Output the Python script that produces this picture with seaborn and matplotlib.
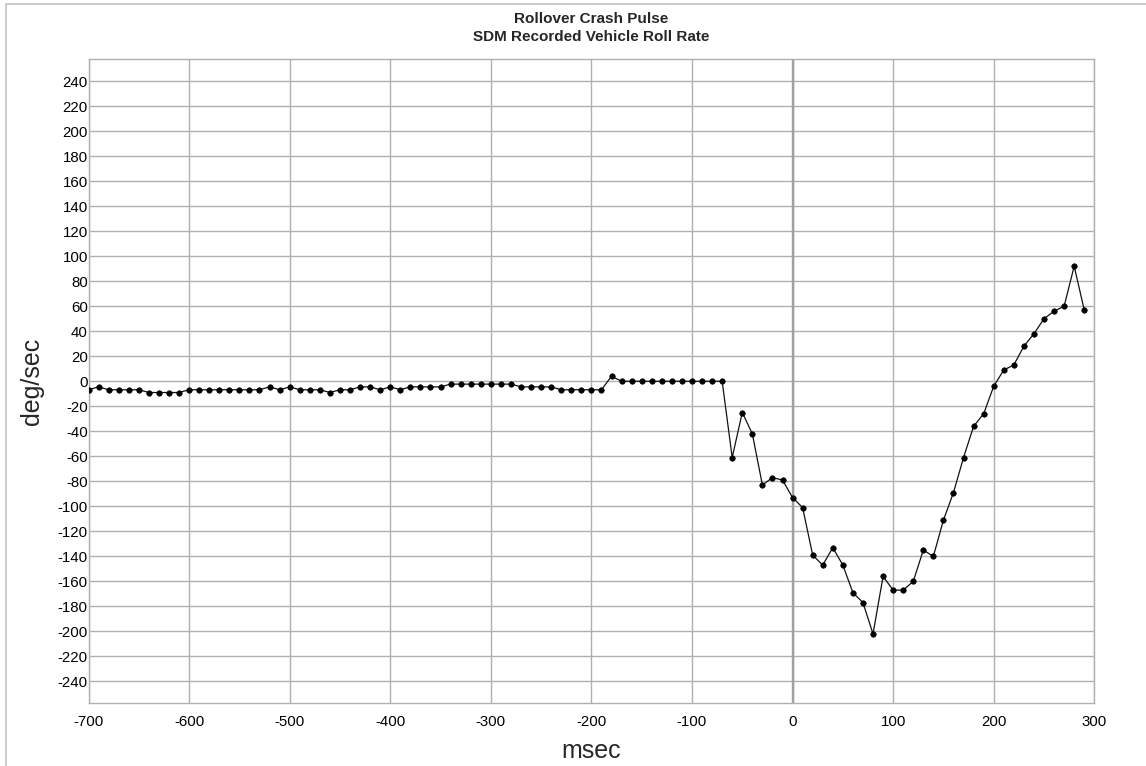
import matplotlib
matplotlib.use("Agg")
import matplotlib.pyplot as plt
from matplotlib.patches import Rectangle
import seaborn as sns
import pandas as pd

# Sample times (ms) and SDM roll rate (deg/sec)
time_ms = list(range(-700, 300, 10))
roll_rate = [
    -6.8, -4.5, -6.8, -6.8, -6.8, -6.8, -9.0, -9.0, -9.0, -9.0,
    -6.8, -6.8, -6.8, -6.8, -6.8, -6.8, -6.8, -6.8,
    -4.5, -6.8, -4.5, -6.8, -6.8, -6.8, -9.0, -6.8, -6.8, -4.5,
    -4.5, -6.8, -4.5, -6.8, -4.5, -4.5, -4.5, -4.5,
    -2.3, -2.3, -2.3, -2.3, -2.3, -2.3, -2.3,
    -4.5, -4.5, -4.5, -4.5,
    -6.8, -6.8, -6.8, -6.8, -6.8,
    4.0,
    0, 0, 0, 0, 0, 0, 0, 0, 0, 0, 0,
    -61, -25, -42, -83, -77, -79, -93, -101, -139, -147,
    -133, -147, -169, -177, -202, -156, -167, -167, -160, -135,
    -140, -111, -89, -61, -36, -26, -4, 9, 13, 28,
    38, 50, 56, 60, 92, 57,
]

x_ticks = list(range(-700, 301, 100))
y_ticks = list(range(-240, 241, 20))
title_lines = ["Rollover Crash Pulse", "SDM Recorded Vehicle Roll Rate"]

df = pd.DataFrame({"msec": time_ms, "deg/sec": roll_rate})

sns.set_theme(style="whitegrid")
plt.rcParams["font.family"] = ["Liberation Sans", "DejaVu Sans"]
plt.rcParams["axes.unicode_minus"] = False

W, H = 1146, 766
fig = plt.figure(figsize=(W / 100, H / 100), dpi=100)
fig.subplots_adjust(left=88.5 / W, right=1094.3 / W,
                    bottom=1 - 703.2 / H, top=1 - 59.3 / H)
ax = fig.add_subplot(111)

grid_col = "#b0b0b0"
ax.set_xlim(-700, 300)
ax.set_ylim(-257.4, 257.4)
ax.set_xticks(x_ticks)
ax.set_yticks(y_ticks)
ax.grid(True, color=grid_col, linewidth=1.0)
ax.axvline(0, color="#a0a0a0", linewidth=1.7, zorder=1)
for s in ax.spines.values():
    s.set_color(grid_col)
    s.set_linewidth(1.0)

sns.lineplot(data=df, x="msec", y="deg/sec", ax=ax, color="#111111",
             linewidth=0.9, marker="o", markersize=4.0,
             markeredgecolor="#000000", markerfacecolor="#000000",
             markeredgewidth=0.4, zorder=3)

ax.tick_params(axis="both", length=0, labelsize=10.8, colors="black")
ax.tick_params(axis="y", pad=0.5)
ax.tick_params(axis="x", pad=8.5)

ax.set_xlabel("msec", fontsize=18)
ax.set_ylabel("deg/sec", fontsize=18)
ax.xaxis.set_label_coords(0.5, -(751 - 703.2) / 643.9)
ax.xaxis.label.set_va("center")
ax.yaxis.set_label_coords(-(88.5 - 32) / 1005.8, 0.5)
ax.yaxis.label.set_va("center")

cx = (88.5 + 1094.3) / 2 / W
fig.text(cx, 1 - 19 / H, title_lines[0], ha="center", va="center",
         fontsize=11, fontweight="bold")
fig.text(cx, 1 - 37 / H, title_lines[1], ha="center", va="center",
         fontsize=11, fontweight="bold")

# outer chart frame (left and top edges visible)
fig.patches.append(Rectangle((6 / W, -0.05), 1.2, 1 - 3.7 / H + 0.05,
                             transform=fig.transFigure, fill=False,
                             edgecolor="#c4c4c4", linewidth=1.2))

fig.savefig("out.png", dpi=100)
